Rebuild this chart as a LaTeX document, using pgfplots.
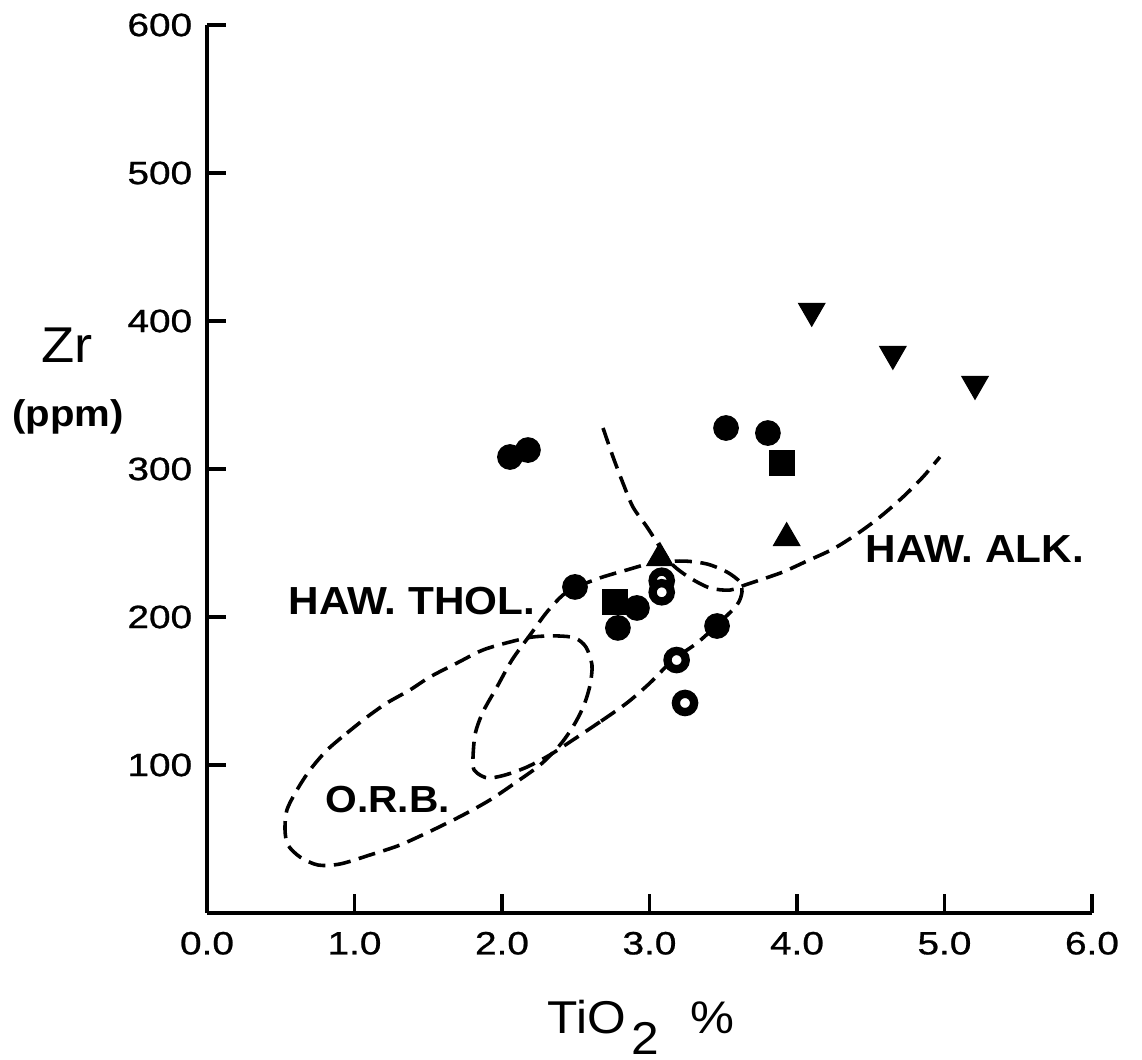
\documentclass[border=0pt]{standalone}
\usepackage{fontspec}
\setmainfont[FakeStretch=1.08]{Liberation Sans}
\newfontfamily\tickfont[FakeStretch=1.2, FakeBold=0.8]{Liberation Sans}
\usepackage{pgfplots}
\pgfplotsset{compat=1.18}
\begin{document}
\begin{tikzpicture}
\begin{axis}[
  name=ax,
  scale only axis,
  width=309.75pt, height=310.8pt,
  xmin=0, xmax=6, ymin=0, ymax=600,
  axis lines=left,
  axis line style={line width=1.4pt, -},
  every tick/.style={line width=1.3pt, black},
  tick align=inside,
  major tick length=6.5pt,
  xtick={0,1,2,3,4,5,6},
  xticklabels={0.0,1.0,2.0,3.0,4.0,5.0,6.0},
  ytick={100,200,300,400,500,600},
  yticklabels={100,200,300,400,500,600},
  xticklabel style={font=\tickfont\fontsize{11.3}{12}\selectfont, anchor=north, inner sep=0pt, yshift=-6.4pt},
  yticklabel style={font=\tickfont\fontsize{11.3}{12}\selectfont, anchor=east, inner sep=0pt, xshift=-5.0pt},
  clip=false,
]
% O.R.B. field
\addplot[black, line width=1.25pt, dash pattern=on 6pt off 3pt, smooth, tension=0.5] coordinates {
(0.949,121.6) (1.085,132.4) (1.220,141.9) (1.376,150.7) (1.512,159.5) (1.695,168.9)
(1.871,177.7) (2.054,183.1) (2.210,186.5) (2.373,187.2) (2.495,185.8) (2.569,179.7)
(2.610,167.6) (2.597,154.1) (2.556,140.5) (2.488,127.0) (2.393,113.5) (2.258,100.0)
(2.088,87.8) (1.919,76.4) (1.736,66.2) (1.532,56.1) (1.308,45.9) (1.105,39.2)
(0.902,33.1) (0.753,32.4) (0.631,37.8) (0.549,45.9) (0.529,56.1) (0.542,69.6)
(0.610,83.1) (0.698,96.6) (0.814,110.1) (0.949,121.6)
};
% HAW. THOL. field
\addplot[black, line width=1.25pt, dash pattern=on 6pt off 3pt, smooth, tension=0.5] coordinates {
(2.664,129.1) (2.481,116.9) (2.325,106.8) (2.169,98.6) (2.020,93.2) (1.905,91.2)
(1.831,94.6) (1.803,100.0) (1.817,120.3) (1.871,135.8) (1.966,152.7) (2.068,171.0)
(2.190,187.8) (2.305,203.4) (2.414,214.9) (2.508,220.3) (2.664,226.4) (2.847,231.8)
(3.024,236.5) (3.227,237.8) (3.390,235.8) (3.525,230.4) (3.614,223.6) (3.627,216.9)
(3.593,208.1) (3.458,194.6) (3.322,182.4) (3.159,170.9) (3.003,155.4) (2.847,141.9)
(2.664,129.1)
};
% HAW. ALK. boundary
\addplot[black, line width=1.25pt, dash pattern=on 6pt off 3pt, smooth, tension=0.5] coordinates {
(2.685,327.7) (2.753,308.1) (2.820,290.5) (2.888,274.3) (2.983,260.8) (3.071,247.3)
(3.159,235.1) (3.275,226.4) (3.410,219.6) (3.546,218.2) (3.647,221.6) (3.749,225.0)
(3.905,230.4) (4.068,237.8) (4.244,245.9) (4.407,256.1) (4.563,267.6) (4.719,281.1)
(4.854,294.6) (4.969,308.1)
};
% filled circles
\addplot[only marks, mark=*, mark size=4.3pt, mark options={fill=black, draw=black, line width=0.4pt}] coordinates {
(2.054,308.1) (2.176,312.8) (2.495,220.3) (3.519,327.7) (3.803,324.3)
(2.915,206.1) (2.786,192.6) (3.458,193.9)
};
% open circles
\addplot[only marks, mark=*, mark size=3.2pt, mark options={fill=white, draw=black, line width=2.9pt}] coordinates {
(3.083,224.5) (3.083,216.7) (3.184,170.9) (3.241,141.9)
};
% filled squares
\addplot[only marks, mark=square*, mark size=4.3pt, mark options={fill=black, draw=black, line width=0.4pt}] coordinates {
(2.766,210.1) (3.900,303.9)
};
% filled triangles
\addplot[only marks, mark=triangle*, mark size=5.3pt, mark options={fill=black, draw=black, line width=0.4pt}] coordinates {
(3.071,239.9) (3.930,253.4)
};
% inverted triangles
\addplot[only marks, mark=triangle*, mark size=5.3pt, mark options={fill=black, draw=black, line width=0.4pt, rotate=180}] coordinates {
(4.100,406.8) (4.650,377.7) (5.207,357.4)
};
\node[anchor=base west, font=\bfseries\fontsize{13.7}{14}\selectfont, inner sep=0pt] at (axis cs:0.549,201.4) {HAW. THOL.};
\node[anchor=base west, font=\bfseries\fontsize{13.2}{14}\selectfont, inner sep=0pt] at (axis cs:0.800,68.2) {O.R.B.};
\node[anchor=base west, font=\bfseries\fontsize{13.7}{14}\selectfont, inner sep=0pt] at (axis cs:4.461,236.5) {HAW. ALK.};
\node[font=\fontsize{17.6}{18}\selectfont, inner sep=0pt] at (axis cs:-0.949,383.8) {Zr};
\node[anchor=base, font=\bfseries\fontsize{13}{14}\selectfont, inner sep=0pt] at (axis cs:-0.942,328.4) {(ppm)};
\node[anchor=base west, font=\fontsize{16.1}{17}\selectfont, inner sep=0pt] at (axis cs:2.305,-81.1) {TiO\hspace{2pt}\raisebox{-7.5pt}{2}\hspace{11pt}{\fontsize{16}{17}\selectfont\%}};
\end{axis}
\pgfresetboundingbox
\path[use as bounding box] ([shift={(-72.45pt,-51.45pt)}]ax.south west) rectangle ([shift={(327.25pt,319.55pt)}]ax.south west);
\end{tikzpicture}
\end{document}
